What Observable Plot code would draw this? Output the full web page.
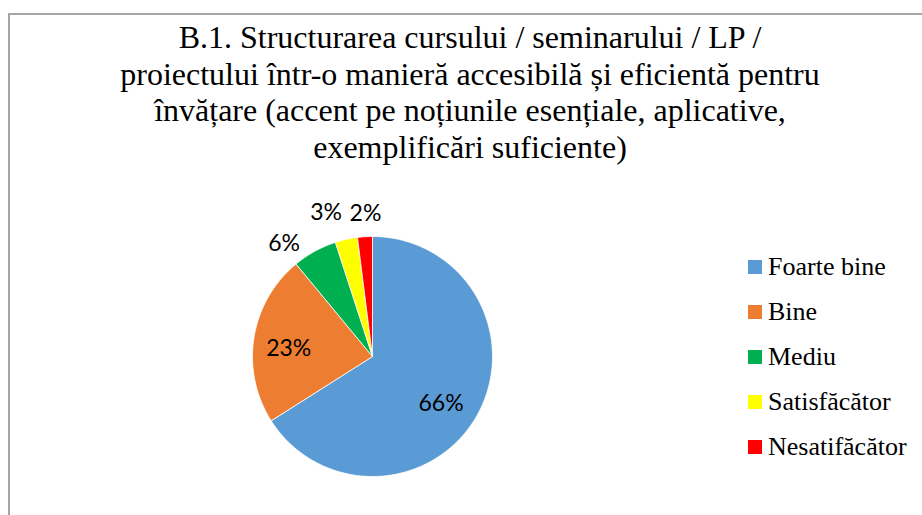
<!DOCTYPE html>
<html>
<head>
<meta charset="utf-8">
<script src="https://cdn.jsdelivr.net/npm/d3@7"></script>
<script src="https://cdn.jsdelivr.net/npm/@observablehq/plot@0.6"></script>
<style>
  html, body { margin: 0; padding: 0; background: #fff; }
  #wrap { position: relative; width: 922px; height: 515px; overflow: hidden; }
  #frame { position: absolute; left: 8px; top: 13px; width: 1000px; height: 600px;
           border-left: 2px solid #a6a6a6; border-top: 2px solid #a6a6a6; box-sizing: border-box; }
  #title { position: absolute; left: 0; width: 940px; top: 19px; text-align: center;
           font-family: "Liberation Serif", "Times New Roman", serif; font-size: 32px; line-height: 36.5px; color: #000; white-space: nowrap; }
  #legend { position: absolute; left: 748px; top: 244px; font-family: "Liberation Serif", serif; font-size: 26px; color: #000; }
  .row { height: 45px; display: flex; align-items: center; white-space: nowrap; }
  .sw { width: 14px; height: 14px; margin-right: 6px; }
  #chart { position: absolute; left: 0; top: 0; }
</style>
</head>
<body>
<div id="wrap">
  <div id="frame"></div>
  <div id="chart"></div>
  <div id="title"></div>
  <div id="legend"></div>
</div>
<script>
const titleLines = [
  "B.1. Structurarea cursului / seminarului / LP /",
  "proiectului într-o manieră accesibilă și eficientă pentru",
  "învățare (accent pe noțiunile esențiale, aplicative,",
  "exemplificări suficiente)"
];
const categories = ["Foarte bine", "Bine", "Mediu", "Satisfăcător", "Nesatifăcător"];
const values = [66, 23, 6, 3, 2];
const labels = ["66%", "23%", "6%", "3%", "2%"];
const colors = ["#5B9BD5", "#ED7D31", "#00B050", "#FFFF00", "#FF0000"];

document.getElementById("title").innerHTML = titleLines.join("<br>");
const legend = document.getElementById("legend");
categories.forEach((c, i) => {
  const row = document.createElement("div");
  row.className = "row";
  row.innerHTML = `<div class="sw" style="background:${colors[i]}"></div><span>${c}</span>`;
  legend.appendChild(row);
});

const data = categories.map((c, i) => ({category: c, value: values[i], label: labels[i]}));
const arcs = d3.pie().sort(null).value(d => d.value)(data);

// polygon vertices for each slice (unit circle, clockwise from 12 o'clock)
const pts = [];
arcs.forEach(a => {
  const k = a.data.category;
  pts.push({k, x: 0, y: 0});
  const n = Math.max(2, Math.ceil((a.endAngle - a.startAngle) / (Math.PI / 180)));
  for (let j = 0; j <= n; j++) {
    const t = a.startAngle + (a.endAngle - a.startAngle) * j / n;
    pts.push({k, x: Math.sin(t), y: -Math.cos(t)});
  }
  pts.push({k, x: 0, y: 0});
});

const mid = a => (a.startAngle + a.endAngle) / 2;
const inside = arcs.filter(a => a.data.value >= 10).map(a => ({label: a.data.label, x: 0.69 * Math.sin(mid(a)), y: -0.69 * Math.cos(mid(a))}));
const outside = arcs.filter(a => a.data.value < 10).map(a => ({label: a.data.label, x: 1.2 * Math.sin(mid(a)), y: -1.2 * Math.cos(mid(a))}));
const font = "Lato, 'Open Sans', sans-serif";

const chart = Plot.plot({
  width: 922,
  height: 515,
  margin: 0,
  x: {domain: [-1, 1], range: [252, 492], axis: null},
  y: {domain: [-1, 1], range: [236, 476], axis: null},
  color: {domain: categories, range: colors},
  style: {background: "transparent"},
  marks: [
    Plot.line(pts, {x: "x", y: "y", z: "k", fill: "k", stroke: "white", strokeWidth: 0.8, curve: "linear"}),
    Plot.text(inside.slice(0, 1), {x: "x", y: "y", text: "label", fontSize: 23, fontFamily: font, fill: "#000", dx: -4, dy: 7}),
    Plot.text(inside.slice(1), {x: "x", y: "y", text: "label", fontSize: 23, fontFamily: font, fill: "#000", dx: -2, dy: 5}),
    Plot.text(outside.slice(0, 1), {x: "x", y: "y", text: "label", fontSize: 23, fontFamily: font, fill: "#000", dx: -19, dy: 13}),
    Plot.text(outside.slice(1, 2), {x: "x", y: "y", text: "label", fontSize: 23, fontFamily: font, fill: "#000", dx: -15, dy: -3}),
    Plot.text(outside.slice(2), {x: "x", y: "y", text: "label", fontSize: 23, fontFamily: font, fill: "#000", dx: 2, dy: 1})
  ]
});
document.getElementById("chart").appendChild(chart);
</script>
</body>
</html>
